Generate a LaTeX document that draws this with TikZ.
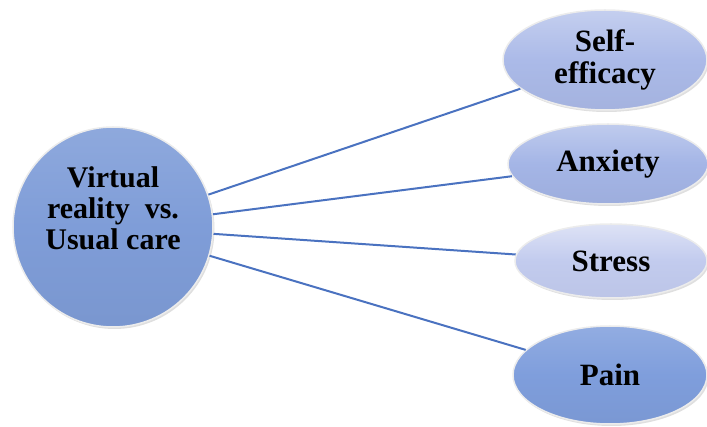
\documentclass[tikz,border=0pt]{standalone}
\usepackage{fontspec}
\setmainfont{Liberation Serif}
\usetikzlibrary{shapes.geometric,shadows}
\definecolor{linec}{HTML}{4A72C0}
\definecolor{circc}{HTML}{7F9DD8}
\definecolor{selfc}{HTML}{ABBAE8}
\definecolor{anxc}{HTML}{A4B5E6}
\definecolor{strc}{HTML}{C2CBEE}
\definecolor{painc}{HTML}{7F9EDC}
\tikzset{
  bub/.style={ellipse, inner sep=0pt, draw=white!85!gray, line width=1.5pt,
    drop shadow={shadow xshift=1.5pt, shadow yshift=-2pt, opacity=0.25},
    align=center, font=\fontsize{31}{32}\selectfont\bfseries, text=black},
  txt/.style={align=center, inner sep=0pt, font=\fontsize{30}{31}\selectfont\bfseries, text=black},
  conn/.style={draw=linec, line width=2pt},
}
\begin{document}
\begin{tikzpicture}[x=1pt,y=-1pt]
\useasboundingbox (0,0) rectangle (707,427);
\node[bub, circle, minimum size=200pt, top color=circc!88!white, bottom color=circc!96!black, middle color=circc] (c) at (113,227) {};
\node[txt] (ct) at (113,208) {Virtual\\reality\ \ vs.\\Usual care};
\node[bub, minimum width=204pt, minimum height=100pt, top color=selfc!70!white, bottom color=selfc!96!black, middle color=selfc] (se) at (605,60) {Self-\\efficacy};
\node[bub, minimum width=200pt, minimum height=80pt, top color=anxc!70!white, bottom color=anxc!96!black, middle color=anxc] (ax) at (608,164) {Anxiety};
\node[bub, minimum width=192pt, minimum height=74pt, top color=strc!55!white, bottom color=strc!97!black, middle color=strc] (st) at (611,261) {Stress};
\node[bub, minimum width=194pt, minimum height=98pt, top color=painc!85!white, bottom color=painc!96!black, middle color=painc] (pa) at (610,375) {Pain};
\draw[conn] (c) -- (se);
\draw[conn] (c) -- (ax);
\draw[conn] (c) -- (st);
\draw[conn] (c) -- (pa);
\end{tikzpicture}
\end{document}
